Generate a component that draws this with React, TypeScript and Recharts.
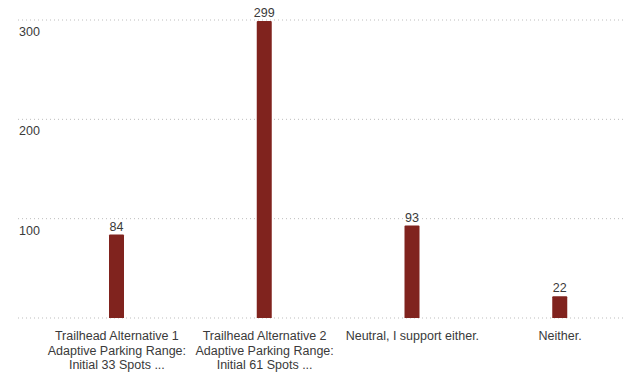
import React from "react";
import { BarChart, Bar, XAxis, YAxis, CartesianGrid, LabelList } from "recharts";

const categories = [
  "Trailhead Alternative 1 Adaptive Parking Range: Initial 33 Spots ...",
  "Trailhead Alternative 2 Adaptive Parking Range: Initial 61 Spots ...",
  "Neutral, I support either.",
  "Neither.",
];
const categoryLines = [
  ["Trailhead Alternative 1", "Adaptive Parking Range:", "Initial 33 Spots ..."],
  ["Trailhead Alternative 2", "Adaptive Parking Range:", "Initial 61 Spots ..."],
  ["Neutral, I support either."],
  ["Neither."],
];
const values = [84, 299, 93, 22];
const yTicks = [0, 100, 200, 300];

const data = categories.map((c, i) => ({ name: c, value: values[i], idx: i }));

const FONT = "'Liberation Sans', Arial, sans-serif";
const TEXT = "#3a3a3a";

const XTick = (props: any) => {
  const { x, y, index } = props;
  const lines = categoryLines[index] || [String(props.payload.value)];
  return (
    <text x={x} y={y} textAnchor="middle" fill={TEXT} fontSize={12.5} fontFamily={FONT}>
      {lines.map((l, i) => (
        <tspan key={i} x={x} dy={i === 0 ? 22 : 14.5}>
          {l}
        </tspan>
      ))}
    </text>
  );
};

const YTick = (props: any) => {
  const { x, y, payload } = props;
  if (payload.value === 0) return <g />;
  return (
    <text x={x + 1} y={y + 16} textAnchor="start" fill={TEXT} fontSize={12.5} fontFamily={FONT}>
      {payload.value}
    </text>
  );
};

export default function App() {
  return (
    <div style={{ position: "absolute", left: 0, top: 0, width: 625, height: 374, overflow: "hidden", background: "#fff" }}>
      <BarChart
        width={640}
        height={374}
        data={data}
        margin={{ top: 20, right: 6, left: 17, bottom: 0 }}
      >
        <CartesianGrid vertical={false} stroke="#bdbdbd" strokeDasharray="1 3" />
        <XAxis
          dataKey="name"
          axisLine={false}
          tickLine={false}
          tickSize={0}
          tickMargin={0}
          height={56}
          interval={0}
          padding={{ left: 25, right: 0 }}
          tick={XTick}
        />
        <YAxis
          width={1}
          domain={[0, 300]}
          ticks={yTicks}
          interval={0}
          axisLine={false}
          tickLine={false}
          tickSize={0}
          tickMargin={0}
          tick={YTick}
        />
        <Bar dataKey="value" fill="#80231e" barSize={15} radius={[1, 1, 0, 0]} isAnimationActive={false}>
          <LabelList dataKey="value" position="top" offset={4} fill={TEXT} fontSize={12.5} fontFamily={FONT} />
        </Bar>
      </BarChart>
    </div>
  );
}
